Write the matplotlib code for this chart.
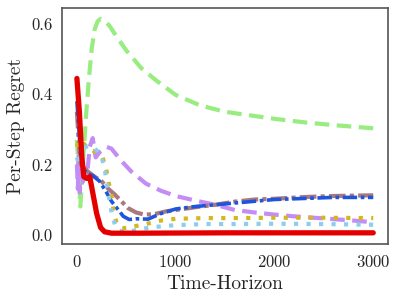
import numpy as np
import matplotlib
matplotlib.use("Agg")
import matplotlib.pyplot as plt
import seaborn as sns

# ───────────── data ─────────────
green_t = [0, 15, 35, 60, 90, 120, 150, 180, 210, 240, 280, 330, 400, 500, 650,
           800, 1000, 1250, 1500, 1750, 2000, 2300, 2600, 3000]
green_y = [0.27, 0.20, 0.08, 0.20, 0.33, 0.44, 0.53, 0.585, 0.608, 0.615, 0.61,
           0.595, 0.565, 0.525, 0.475, 0.44, 0.398, 0.368, 0.35, 0.34, 0.33,
           0.32, 0.312, 0.303]

purple_t = [0, 10, 20, 30, 45, 60, 80, 100, 130, 160, 190, 230, 300, 350, 450,
            550, 700, 850, 1000, 1200, 1400, 1600, 1800, 2000, 2200, 2500, 2800, 3000]
purple_y = [0.20, 0.13, 0.26, 0.12, 0.22, 0.15, 0.20, 0.16, 0.25, 0.275, 0.22,
            0.235, 0.25, 0.245, 0.21, 0.18, 0.145, 0.125, 0.11, 0.097, 0.085,
            0.07, 0.063, 0.057, 0.052, 0.046, 0.04, 0.035]

brown_t = [0, 20, 40, 70, 110, 180, 250, 320, 380, 450, 520, 600, 680, 780,
           900, 1050, 1200, 1400, 1600, 1800, 2000, 2300, 2600, 3000]
brown_y = [0.35, 0.26, 0.20, 0.19, 0.18, 0.165, 0.152, 0.13, 0.115, 0.095,
           0.075, 0.063, 0.057, 0.058, 0.066, 0.072, 0.078, 0.085, 0.094, 0.10,
           0.102, 0.107, 0.11, 0.112]

blue_t = [0, 20, 40, 60, 100, 160, 230, 300, 350, 420, 470, 530, 600, 720,
          850, 1000, 1200, 1400, 1600, 1800, 2000, 2300, 2600, 3000]
blue_y = [0.38, 0.30, 0.22, 0.19, 0.175, 0.168, 0.152, 0.12, 0.095, 0.07,
          0.052, 0.043, 0.045, 0.044, 0.06, 0.073, 0.08, 0.085, 0.09, 0.095,
          0.10, 0.103, 0.106, 0.106]

yellow_t = [0, 20, 50, 100, 150, 200, 260, 295, 320, 345, 370, 400, 430, 470,
            550, 680, 850, 1000, 1300, 1600, 2000, 2500, 3000]
yellow_y = [0.25, 0.27, 0.265, 0.25, 0.24, 0.235, 0.22, 0.19, 0.15, 0.12, 0.07,
            0.035, 0.02, 0.018, 0.022, 0.029, 0.04, 0.045, 0.047, 0.047, 0.048,
            0.048, 0.047]

lblue_t = [0, 20, 50, 90, 140, 200, 250, 280, 310, 330, 360, 390, 420, 480,
           550, 650, 800, 1000, 1300, 1600, 2000, 2500, 3000]
lblue_y = [0.22, 0.20, 0.24, 0.25, 0.254, 0.24, 0.22, 0.19, 0.13, 0.096, 0.05,
           0.025, 0.012, 0.008, 0.01, 0.016, 0.022, 0.027, 0.03, 0.03, 0.031,
           0.03, 0.028]

red_t = [0, 25, 50, 70, 100, 130, 160, 200, 240, 280, 350, 600, 1500, 3000]
red_y = [0.445, 0.35, 0.22, 0.165, 0.16, 0.165, 0.12, 0.06, 0.02, 0.008,
         0.004, 0.004, 0.005, 0.005]

# ───────────── style ─────────────
sns.set_style("white")
plt.rcParams.update({
    "font.family": ["cmr10", "DejaVu Serif"],
    "axes.formatter.use_mathtext": True,
    "mathtext.fontset": "cm",
    "axes.edgecolor": "#555555",
    "axes.linewidth": 1.2,
    "xtick.labelsize": 12,
    "ytick.labelsize": 12,
    "axes.labelsize": 14,
    "axes.unicode_minus": False,
})

fig = plt.figure(figsize=(3.98, 3.0), dpi=100)
ax = fig.add_axes([0.156, 0.187, 0.819, 0.786])

ax.plot(green_t, green_y, color="#98ec80", lw=3, ls=(0, (3.5, 1.8)))
ax.plot(purple_t, purple_y, color="#c38df5", lw=3, ls=(0, (3.5, 1.8)))
ax.plot(brown_t, brown_y, color="#a87a80", lw=3, ls=(0, (4, 1, 1, 1)))
ax.plot(blue_t, blue_y, color="#1f55dd", lw=2.6, ls=(0, (4, 1, 1, 1)))
ax.plot(yellow_t, yellow_y, color="#d4b71e", lw=3, ls=(0, (1, 2)))
ax.plot(lblue_t, lblue_y, color="#8dcdf0", lw=3, ls=(0, (1, 2)))
ax.plot(red_t, red_y, color="#e50000", lw=3.8, solid_capstyle="round",
        solid_joinstyle="round")

ax.set_xticks([0, 1000, 2000, 3000])
ax.set_yticks([0.0, 0.2, 0.4, 0.6])
ax.yaxis.set_major_formatter(matplotlib.ticker.FormatStrFormatter("%.1f"))
ax.set_xlabel("Time-Horizon")
ax.set_ylabel("Per-Step Regret")

fig.savefig("out.png", dpi=100)
